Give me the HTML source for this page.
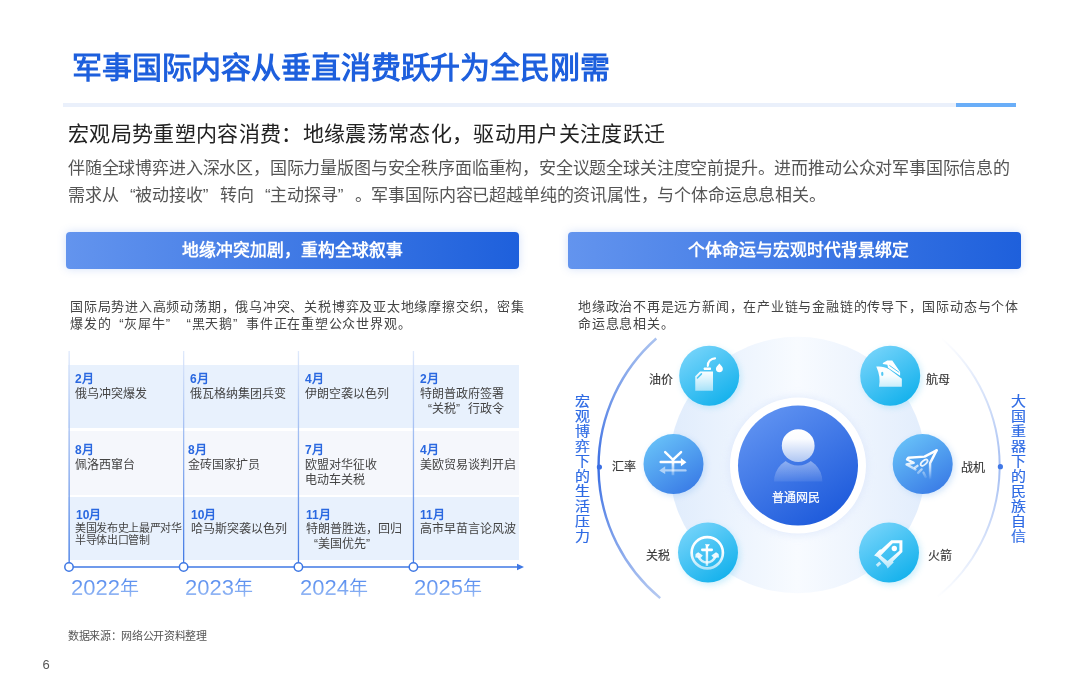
<!DOCTYPE html>
<html lang="zh-CN">
<head>
<meta charset="utf-8">
<style>
html,body{margin:0;padding:0;}
body{width:1080px;height:691px;position:relative;overflow:hidden;background:#fff;will-change:transform;font-family:"Liberation Sans",sans-serif;}
.a{position:absolute;white-space:nowrap;}
#title{left:72px;top:46px;font-size:30px;letter-spacing:-0.13px;line-height:44px;font-weight:bold;color:#1d5fdd;}
#hl{left:63px;top:103px;width:893px;height:4px;background:#eaf0fb;}
#hb{left:956px;top:103px;width:60px;height:4px;background:#6aaef8;}
#sub{left:68px;top:117.5px;font-size:21px;letter-spacing:0.34px;line-height:32px;color:#222;}
.body{font-size:17px;letter-spacing:-0.18px;line-height:27px;color:#555;}
.bar{top:232px;height:37px;width:453px;border-radius:4px;background:linear-gradient(90deg,#6394ee,#1e60dc);box-shadow:0 0 8px rgba(80,130,230,0.25);color:#fff;font-weight:bold;font-size:16.8px;line-height:37px;text-align:center;}
.desc{font-size:13px;letter-spacing:0.78px;line-height:17.5px;color:#444;}
.row{left:68px;width:451px;height:63px;}
.cell{position:absolute;white-space:nowrap;}
.m{font-size:12px;line-height:14px;font-weight:bold;color:#2a68e0;}
.e{font-size:12px;line-height:15px;color:#444;}
.yr{font-size:22px;line-height:26px;color:transparent;background:linear-gradient(180deg,#4a82ed 0%,#6f9ef1 45%,#b2cbf7 100%);-webkit-background-clip:text;background-clip:text;}
.yr b{font-weight:normal;font-size:19px;}
.lbl{font-size:12px;line-height:14px;color:#383838;-webkit-text-stroke:0.15px #383838;}
.ql{display:inline-block;width:1em;text-align:right;}
.qr{display:inline-block;width:1em;text-align:left;}
.vt i{display:block;font-style:normal;height:15px;transform:scaleY(0.88);}
.vt{font-size:15px;line-height:15px;color:#2f6be4;-webkit-text-stroke:0.2px #2f6be4;white-space:normal;width:16px;word-break:break-all;}
</style>
</head>
<body>
<div class="a" id="title">军事国际内容从垂直消费跃升为全民刚需</div>
<div class="a" id="hl"></div>
<div class="a" id="hb"></div>
<div class="a" id="sub">宏观局势重塑内容消费：地缘震荡常态化，驱动用户关注度跃迁</div>
<div class="a body" style="left:68px;top:155px;">伴随全球博弈进入深水区，国际力量版图与安全秩序面临重构，安全议题全球关注度空前提升。进而推动公众对军事国际信息的</div>
<div class="a body" style="left:68px;top:182px;">需求从<span class="ql">“</span>被动接收<span class="qr">”</span>转向<span class="ql">“</span>主动探寻<span class="qr">”</span>。军事国际内容已超越单纯的资讯属性，与个体命运息息相关。</div>

<div class="a bar" style="left:66px;">地缘冲突加剧，重构全球叙事</div>
<div class="a bar" style="left:568px;text-indent:8px;">个体命运与宏观时代背景绑定</div>

<div class="a desc" style="left:70px;top:297.5px;">国际局势进入高频动荡期，俄乌冲突、关税博弈及亚太地缘摩擦交织，密集</div>
<div class="a desc" style="left:70px;top:314.5px;">爆发的<span class="ql">“</span>灰犀牛<span class="qr">”</span><span class="ql">“</span>黑天鹅<span class="qr">”</span>事件正在重塑公众世界观。</div>
<div class="a desc" style="left:578px;top:297.5px;">地缘政治不再是远方新闻，在产业链与金融链的传导下，国际动态与个体</div>
<div class="a desc" style="left:578px;top:314.5px;">命运息息相关。</div>

<!-- table rows -->
<div class="a row" style="top:365px;background:#e8f1fd;"></div>
<div class="a row" style="top:431px;height:64px;background:#f5f7fc;"></div>
<div class="a row" style="top:497px;background:#e8f1fd;"></div>

<svg class="a" style="left:0;top:0;" width="1080" height="691">
<defs>
<linearGradient id="vl" x1="0" y1="0" x2="0" y2="1">
<stop offset="0" stop-color="#dfe9fb"/><stop offset="1" stop-color="#3f78e4"/>
</linearGradient>
</defs>
<g fill="url(#vl)">
<rect x="68.5" y="351" width="1.3" height="216"/>
<rect x="183" y="351" width="1.3" height="216"/>
<rect x="297.8" y="351" width="1.3" height="216"/>
<rect x="412.8" y="351" width="1.3" height="216"/>
</g>
<line x1="69" y1="567" x2="520" y2="567" stroke="#3f78e4" stroke-width="1.4"/>
<path d="M517 563.8 L524 567 L517 570.2 Z" fill="#3f78e4"/>
<g fill="#fff" stroke="#3f78e4" stroke-width="1.5">
<circle cx="69" cy="567" r="4.2"/>
<circle cx="183.6" cy="567" r="4.2"/>
<circle cx="298.4" cy="567" r="4.2"/>
<circle cx="413.4" cy="567" r="4.2"/>
</g>
</svg>

<div class="a m" style="left:75px;top:372px;">2月</div>
<div class="a e" style="left:75px;top:386.5px;">俄乌冲突爆发</div>
<div class="a m" style="left:190px;top:372px;">6月</div>
<div class="a e" style="left:190px;top:386.5px;">俄瓦格纳集团兵变</div>
<div class="a m" style="left:305px;top:372px;">4月</div>
<div class="a e" style="left:305px;top:386.5px;">伊朗空袭以色列</div>
<div class="a m" style="left:420px;top:372px;">2月</div>
<div class="a e" style="left:420px;top:386.5px;">特朗普政府签署<br><span class="ql">“</span>关税<span class="qr">”</span>行政令</div>

<div class="a m" style="left:75px;top:443px;">8月</div>
<div class="a e" style="left:75px;top:457.5px;">佩洛西窜台</div>
<div class="a m" style="left:188px;top:443px;">8月</div>
<div class="a e" style="left:188px;top:457.5px;">金砖国家扩员</div>
<div class="a m" style="left:305px;top:443px;">7月</div>
<div class="a e" style="left:305px;top:457.5px;">欧盟对华征收<br>电动车关税</div>
<div class="a m" style="left:420px;top:443px;">4月</div>
<div class="a e" style="left:420px;top:457.5px;">美欧贸易谈判开启</div>

<div class="a m" style="left:76px;top:508px;">10月</div>
<div class="a e" style="left:75px;top:522px;font-size:11px;letter-spacing:-0.33px;line-height:12px;">美国发布史上最严对华<br>半导体出口管制</div>
<div class="a m" style="left:191px;top:508px;">10月</div>
<div class="a e" style="left:191px;top:522px;">哈马斯突袭以色列</div>
<div class="a m" style="left:306px;top:508px;">11月</div>
<div class="a e" style="left:306px;top:522px;">特朗普胜选，回归<br><span class="ql">“</span>美国优先<span class="qr">”</span></div>
<div class="a m" style="left:420px;top:508px;">11月</div>
<div class="a e" style="left:420px;top:522px;">高市早苗言论风波</div>

<div class="a yr" style="left:71px;top:575px;">2022<b>年</b></div>
<div class="a yr" style="left:185px;top:575px;">2023<b>年</b></div>
<div class="a yr" style="left:300px;top:575px;">2024<b>年</b></div>
<div class="a yr" style="left:414px;top:575px;">2025<b>年</b></div>

<!-- diagram -->
<svg class="a" style="left:0;top:0;" width="1080" height="691">
<defs>
<linearGradient id="bigc" x1="669" y1="0" x2="926" y2="0" gradientUnits="userSpaceOnUse">
<stop offset="0" stop-color="#e0ecfc"/><stop offset="0.5" stop-color="#f8fbff"/><stop offset="1" stop-color="#e2edfc"/>
</linearGradient>
<linearGradient id="cyan" x1="0.2" y1="0.05" x2="0.8" y2="0.95">
<stop offset="0" stop-color="#74d3fa"/><stop offset="1" stop-color="#13b1ec"/>
</linearGradient>
<linearGradient id="blue2" x1="0.2" y1="0.05" x2="0.8" y2="0.95">
<stop offset="0" stop-color="#67c0f8"/><stop offset="1" stop-color="#3a7ce6"/>
</linearGradient>
<linearGradient id="ctr" x1="0.2" y1="0.05" x2="0.8" y2="0.95">
<stop offset="0" stop-color="#5f92f1"/><stop offset="1" stop-color="#1d5adb"/>
</linearGradient>
<linearGradient id="larc" x1="0" y1="338" x2="0" y2="598" gradientUnits="userSpaceOnUse">
<stop offset="0" stop-color="#aac2ef"/><stop offset="0.5" stop-color="#3a6ee3"/><stop offset="1" stop-color="#b5c9f1"/>
</linearGradient>
<linearGradient id="rarc" x1="0" y1="338" x2="0" y2="598" gradientUnits="userSpaceOnUse">
<stop offset="0" stop-color="#ffffff"/><stop offset="0.5" stop-color="#a3bdf2"/><stop offset="1" stop-color="#ffffff"/>
</linearGradient>
<linearGradient id="wg" x1="0" y1="0" x2="0" y2="691" gradientUnits="userSpaceOnUse">
<stop offset="0" stop-color="#fff"/><stop offset="1" stop-color="#fff"/>
</linearGradient>
<linearGradient id="ig" x1="0" y1="60" x2="0" y2="680" gradientUnits="userSpaceOnUse">
<stop offset="0" stop-color="#fff" stop-opacity="1"/><stop offset="0.45" stop-color="#fff" stop-opacity="0.97"/><stop offset="1" stop-color="#fff" stop-opacity="0.55"/>
</linearGradient>
<linearGradient id="ig2" x1="0" y1="100" x2="0" y2="560" gradientUnits="userSpaceOnUse">
<stop offset="0" stop-color="#fff" stop-opacity="1"/><stop offset="0.5" stop-color="#fff" stop-opacity="0.9"/><stop offset="1" stop-color="#fff" stop-opacity="0.15"/>
</linearGradient>
<linearGradient id="jet" x1="0" y1="240" x2="0" y2="600" gradientUnits="userSpaceOnUse">
<stop offset="0" stop-color="#fff" stop-opacity="1"/><stop offset="0.3" stop-color="#fff" stop-opacity="0.85"/><stop offset="1" stop-color="#fff" stop-opacity="0.05"/>
</linearGradient>
<linearGradient id="head" x1="0" y1="429" x2="0" y2="462" gradientUnits="userSpaceOnUse">
<stop offset="0" stop-color="#fff"/><stop offset="0.3" stop-color="#fbfcff"/><stop offset="1" stop-color="#aec6f3"/>
</linearGradient>
<linearGradient id="bodyg" x1="0" y1="458" x2="0" y2="482" gradientUnits="userSpaceOnUse">
<stop offset="0" stop-color="#fff" stop-opacity="0.45"/><stop offset="1" stop-color="#fff" stop-opacity="0.08"/>
</linearGradient>
<filter id="blur4" x="-50%" y="-50%" width="200%" height="200%"><feGaussianBlur stdDeviation="4"/></filter>
<filter id="blur3" x="-50%" y="-50%" width="200%" height="200%"><feGaussianBlur stdDeviation="3"/></filter>
</defs>
<circle cx="797.5" cy="465" r="128.3" fill="url(#bigc)"/>
<circle cx="798" cy="466" r="69" fill="#dbe6fb" filter="url(#blur4)" opacity="0.8"/>
<circle cx="798" cy="465.6" r="68" fill="#fff"/>
<circle cx="798" cy="465.6" r="60" fill="url(#ctr)"/>
<!-- person -->
<mask id="pm" maskUnits="userSpaceOnUse" x="760" y="420" width="80" height="70"><rect x="760" y="420" width="80" height="70" fill="#fff"/><circle cx="798.2" cy="445.7" r="19.8" fill="#000"/></mask>
<path d="M774 481.5 A24.2 24.2 0 0 1 822.4 481.5 Z" fill="url(#bodyg)" mask="url(#pm)"/>
<circle cx="798.2" cy="445.7" r="16.4" fill="url(#head)"/>
<!-- icon glows -->
<g filter="url(#blur3)" opacity="0.45">
<circle cx="711" cy="378" r="30" fill="#8fd9f7"/>
<circle cx="892" cy="378" r="30" fill="#8fd9f7"/>
<circle cx="675.5" cy="466" r="30" fill="#9cc6f5"/>
<circle cx="924.7" cy="466" r="30" fill="#9cc6f5"/>
<circle cx="710" cy="555" r="30" fill="#8fd9f7"/>
<circle cx="891" cy="555" r="30" fill="#8fd9f7"/>
</g>
<circle cx="709.2" cy="375.7" r="30" fill="url(#cyan)"/>
<circle cx="890.2" cy="375.7" r="30" fill="url(#cyan)"/>
<circle cx="673.5" cy="464.1" r="30" fill="url(#blue2)"/>
<circle cx="922.7" cy="464.1" r="30" fill="url(#blue2)"/>
<circle cx="708" cy="552.5" r="30" fill="url(#cyan)"/>
<circle cx="889" cy="552.5" r="30" fill="url(#cyan)"/>
<!-- oil can -->
<g transform="translate(689,352) scale(0.05789)">
<path d="M108 420 L190 335 L415 335 L415 668 L108 668 Z" fill="url(#ig)"/>
<path d="M145 450 L215 378" stroke="#4cc6f3" stroke-width="26" stroke-linecap="round"/>
<rect x="255" y="268" width="125" height="42" rx="12" fill="#fff"/>
<path d="M325 240 A125 125 0 0 1 450 110" fill="none" stroke="#fff" stroke-width="36" stroke-linecap="round"/>
<path d="M525 200 C 555 235, 585 262, 585 290 A60 60 0 1 1 465 290 C 465 262, 495 235, 525 200 Z" fill="#fff"/>
</g>
<!-- ship -->
<g transform="translate(870,356) scale(0.05789)">
<path d="M108 182 C 190 172, 260 190, 330 228 L 550 392 L 550 530 L 155 530 C 178 420, 165 300, 108 182 Z" fill="url(#ig)"/>
<ellipse cx="212" cy="310" rx="20" ry="36" fill="#52c8f4"/>
<path d="M222 122 L 298 78 L 385 78 L 520 278 L 520 340 L 312 205 L 300 150 L 222 140 Z" fill="#fff"/>
<path d="M335 162 L 505 285" stroke="#4cc4f3" stroke-width="16"/>
</g>
<!-- yen exchange -->
<g transform="translate(653,444) scale(0.05789)">
<path d="M210 140 L345 272 L485 140" fill="none" stroke="#fff" stroke-width="42" stroke-linecap="round" stroke-linejoin="round"/>
<path d="M345 270 L345 540" stroke="url(#ig2)" stroke-width="46"/>
<path d="M132 312 L495 312" stroke="#fff" stroke-width="42" stroke-linecap="round"/>
<path d="M482 240 L578 314 L482 385 Z" fill="#fff"/>
<g opacity="0.55">
<path d="M205 456 L560 456" stroke="#fff" stroke-width="42" stroke-linecap="round"/>
<path d="M210 385 L108 456 L210 520 Z" fill="#fff"/>
</g>
</g>
<!-- jet -->
<g transform="translate(903,444) scale(0.05789)" fill="none" stroke="url(#jet)" stroke-width="42" stroke-linejoin="round" stroke-linecap="round">
<path d="M580 110 L372 218 L92 238 L70 268 L185 325 L62 352 L215 440"/>
<path d="M580 110 L468 330 L468 590"/>
<ellipse cx="365" cy="322" rx="72" ry="34" transform="rotate(-42 365 322)" stroke-width="32"/>
<path d="M250 378 L205 410"/>
<path d="M320 440 L262 500"/>
<path d="M355 495 L390 570"/>
</g>
<!-- anchor -->
<g transform="translate(688,532) scale(0.05789)">
<circle cx="333" cy="358" r="270" fill="none" stroke="url(#ig)" stroke-width="46"/>
<path d="M292 210 L378 210 L358 248 L312 248 Z" fill="#fff"/>
<rect x="225" y="285" width="207" height="46" rx="20" fill="#fff"/>
<path d="M327 240 L327 585" stroke="url(#ig)" stroke-width="42"/>
<path d="M175 420 Q 235 525 327 528 Q 420 525 480 420" fill="none" stroke="url(#ig)" stroke-width="42"/>
<path d="M125 442 L132 378 L176 348 L256 404 L222 446 Z" fill="url(#ig)"/>
<path d="M535 442 L528 378 L484 348 L404 404 L438 446 Z" fill="url(#ig)"/>
</g>
<!-- rocket -->
<g transform="translate(869,532) scale(0.05789)">
<path fill-rule="evenodd" fill="url(#ig)" d="M577 143 L385 143 L215 300 L182 305 L88 405 L150 430 L300 582 L322 632 L428 522 L412 510 L577 345 Z M410 195 L525 195 L525 322 L320 502 L205 405 Z"/>
<circle cx="437" cy="285" r="46" fill="#fff"/>
<path d="M135 585 L195 530" stroke="url(#ig)" stroke-width="52"/>
</g>
<path d="M656.3 338.5 A171 171 0 0 0 660.2 598.1" fill="none" stroke="url(#larc)" stroke-width="2.4"/>
<path d="M942 338.8 A169 169 0 0 1 937.6 596.8" fill="none" stroke="url(#rarc)" stroke-width="2"/>
<circle cx="599.4" cy="467" r="2.6" fill="#3a6ee3"/>
<circle cx="1000.4" cy="466.7" r="2.6" fill="#4178e6"/>
</svg>

<div class="a lbl" style="left:649px;top:372.5px;">油价</div>
<div class="a lbl" style="left:612px;top:460px;">汇率</div>
<div class="a lbl" style="left:646px;top:548.5px;">关税</div>
<div class="a lbl" style="left:926px;top:372.5px;">航母</div>
<div class="a lbl" style="left:961px;top:460.5px;">战机</div>
<div class="a lbl" style="left:927.5px;top:548.5px;">火箭</div>
<div class="a" style="left:772px;top:491px;font-size:12px;line-height:14px;color:#fff;-webkit-text-stroke:0.25px #fff;">普通网民</div>

<div class="a vt" style="left:575px;top:393.5px;"><i>宏</i><i>观</i><i>博</i><i>弈</i><i>下</i><i>的</i><i>生</i><i>活</i><i>压</i><i>力</i></div>
<div class="a vt" style="left:1010.5px;top:394px;"><i>大</i><i>国</i><i>重</i><i>器</i><i>下</i><i>的</i><i>民</i><i>族</i><i>自</i><i>信</i></div>

<div class="a" style="left:68px;top:629px;font-size:11px;letter-spacing:-0.35px;line-height:14px;color:#555;">数据来源：网络公开资料整理</div>
<div class="a" style="left:42.5px;top:657.5px;font-size:13px;line-height:14px;color:#555;">6</div>
</body>
</html>
